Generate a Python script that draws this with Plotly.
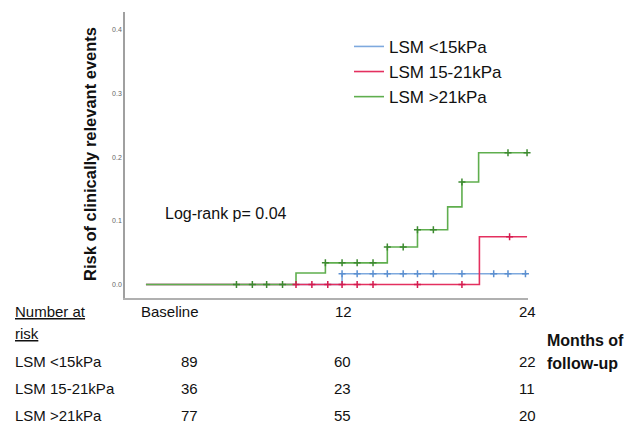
import numpy as np
import plotly.graph_objects as go

# ---------------- data ----------------
series_names = ["LSM <15kPa", "LSM 15-21kPa", "LSM >21kPa"]

# step functions: event times (months) and cumulative risk after each time
blue_t = [0, 12.35, 24.0]
blue_risk = [0, 0.017, 0.017]
red_t = [0, 21.0, 24.0]
red_risk = [0, 0.075, 0.075]
green_t = [0, 9.45, 11.3, 15.2, 17.1, 19.0, 19.9, 20.95, 24.0]
green_risk = [0, 0.018, 0.034, 0.059, 0.086, 0.122, 0.161, 0.207, 0.207]

# censoring times (months)
blue_cens = [12.35, 13.3, 14.3, 15.2, 16.2, 17.1, 18.1, 19.9, 21.9, 22.8, 23.9]
red_cens = [9.45, 10.45, 11.45, 12.35, 13.3, 14.3, 17.1, 19.9, 22.9]
green_cens = [5.7, 6.7, 7.6, 8.6, 11.3, 12.35, 13.3, 14.3, 15.2, 16.2, 17.1, 18.1, 19.9, 22.8, 24.0]

# number at risk table
table_times = [0, 12, 24]
table_headers = ["Baseline", "12", "24"]
risk_blue = [89, 60, 22]
risk_red = [36, 23, 11]
risk_green = [77, 55, 20]

y_ticks = [0.0, 0.1, 0.2, 0.3, 0.4]
y_ticklabels = ["0.0", "0.1", "0.2", "0.3", "0.4"]

# ---------------- styling ----------------
line_cols = ["#7ea9de", "#e4305f", "#5fae4e"]
mark_cols = ["#5b8fd0", "#d41a4e", "#3d8a30"]
FONT = "Liberation Sans, Arial, sans-serif"

fig = go.Figure()


def step_at(ts, rs, c):
    idx = np.searchsorted(np.array(ts), np.array(c), side="right") - 1
    return np.array(rs)[idx]


groups = [
    (blue_t, blue_risk, blue_cens),
    (red_t, red_risk, red_cens),
    (green_t, green_risk, green_cens),
]
for i, (ts, rs, cs) in enumerate(groups):
    fig.add_trace(go.Scatter(
        x=ts, y=rs, mode="lines", name=series_names[i],
        line=dict(color=line_cols[i], width=1.6, shape="hv"),
        cliponaxis=False,
    ))
for i, (ts, rs, cs) in enumerate(groups):
    fig.add_trace(go.Scatter(
        x=cs, y=step_at(ts, rs, cs), mode="markers", showlegend=False,
        marker=dict(symbol="cross-thin", size=5,
                    line=dict(color=mark_cols[i], width=1.5)),
        cliponaxis=False, hoverinfo="skip",
    ))


def py(p):
    return (298 - p) / 288


def px(p):
    return (p - 125) / 403


ann = []
# y axis title
ann.append(dict(text="<b>Risk of clinically relevant events</b>", textangle=-90,
                xref="paper", yref="paper", x=px(90), y=py(153),
                xanchor="center", yanchor="middle", showarrow=False,
                font=dict(family="Liberation Sans Narrow, Liberation Sans, Arial", size=16.5, color="#111")))
# log-rank
ann.append(dict(text="Log-rank p= 0.04", xref="paper", yref="paper",
                x=px(163), y=py(213), xanchor="left", yanchor="middle",
                showarrow=False, font=dict(family=FONT, size=16, color="#111")))

# table
ann.append(dict(text="<u>Number at</u>", xref="paper", yref="paper", x=px(13), y=py(312),
                xanchor="left", yanchor="middle", showarrow=False,
                font=dict(family=FONT, size=15, color="#111")))
ann.append(dict(text="<u>risk</u>", xref="paper", yref="paper", x=px(13), y=py(334),
                xanchor="left", yanchor="middle", showarrow=False,
                font=dict(family=FONT, size=15, color="#111")))
row_y = [362, 389, 416]
for name, yy in zip(series_names, row_y):
    ann.append(dict(text=name, xref="paper", yref="paper", x=px(13), y=py(yy),
                    xanchor="left", yanchor="middle", showarrow=False,
                    font=dict(family=FONT, size=15, color="#111")))
header_shift = [24, 7, 0]
num_shift = [44, 6, 0]
for t, h, hs in zip(table_times, table_headers, header_shift):
    ann.append(dict(text=h, xref="x", yref="paper", x=t, y=py(312), xshift=hs,
                    xanchor="center", yanchor="middle", showarrow=False,
                    font=dict(family=FONT, size=15, color="#111")))
for vals, yy in zip([risk_blue, risk_red, risk_green], row_y):
    for t, v, ns in zip(table_times, vals, num_shift):
        ann.append(dict(text=str(v), xref="x", yref="paper", x=t, y=py(yy), xshift=ns,
                        xanchor="center", yanchor="middle", showarrow=False,
                        font=dict(family=FONT, size=15, color="#111")))
ann.append(dict(text="<b>Months of</b>", xref="paper", yref="paper", x=px(545), y=py(341),
                xanchor="left", yanchor="middle", showarrow=False,
                font=dict(family=FONT, size=16, color="#111")))
ann.append(dict(text="<b>follow-up</b>", xref="paper", yref="paper", x=px(545), y=py(364),
                xanchor="left", yanchor="middle", showarrow=False,
                font=dict(family=FONT, size=16, color="#111")))

fig.update_layout(
    width=636, height=426,
    margin=dict(l=125, r=108, t=12, b=128),
    paper_bgcolor="white", plot_bgcolor="white",
    showlegend=True,
    legend=dict(x=px(349), y=py(27), xanchor="left", yanchor="top",
                font=dict(family=FONT, size=17, color="#111"),
                bgcolor="rgba(0,0,0,0)", itemwidth=30, tracegroupgap=0),
    annotations=ann,
    font=dict(family=FONT),
)
fig.update_xaxes(range=[-1.32, 24.06], showgrid=False, zeroline=False,
                 showticklabels=False, ticks="", showline=True,
                 linecolor="#b0b0b0", linewidth=2)
fig.update_yaxes(range=[-0.0212, 0.4281], showgrid=False, zeroline=False,
                 tickvals=y_ticks, ticktext=y_ticklabels, ticks="",
                 tickfont=dict(size=7, color="#666"), showline=True,
                 linecolor="#a0a0a0", linewidth=1.5)

fig.write_html("out.html", config={"displayModeBar": False},
               post_script="document.body.style.margin='0';document.body.style.overflow='hidden';")
